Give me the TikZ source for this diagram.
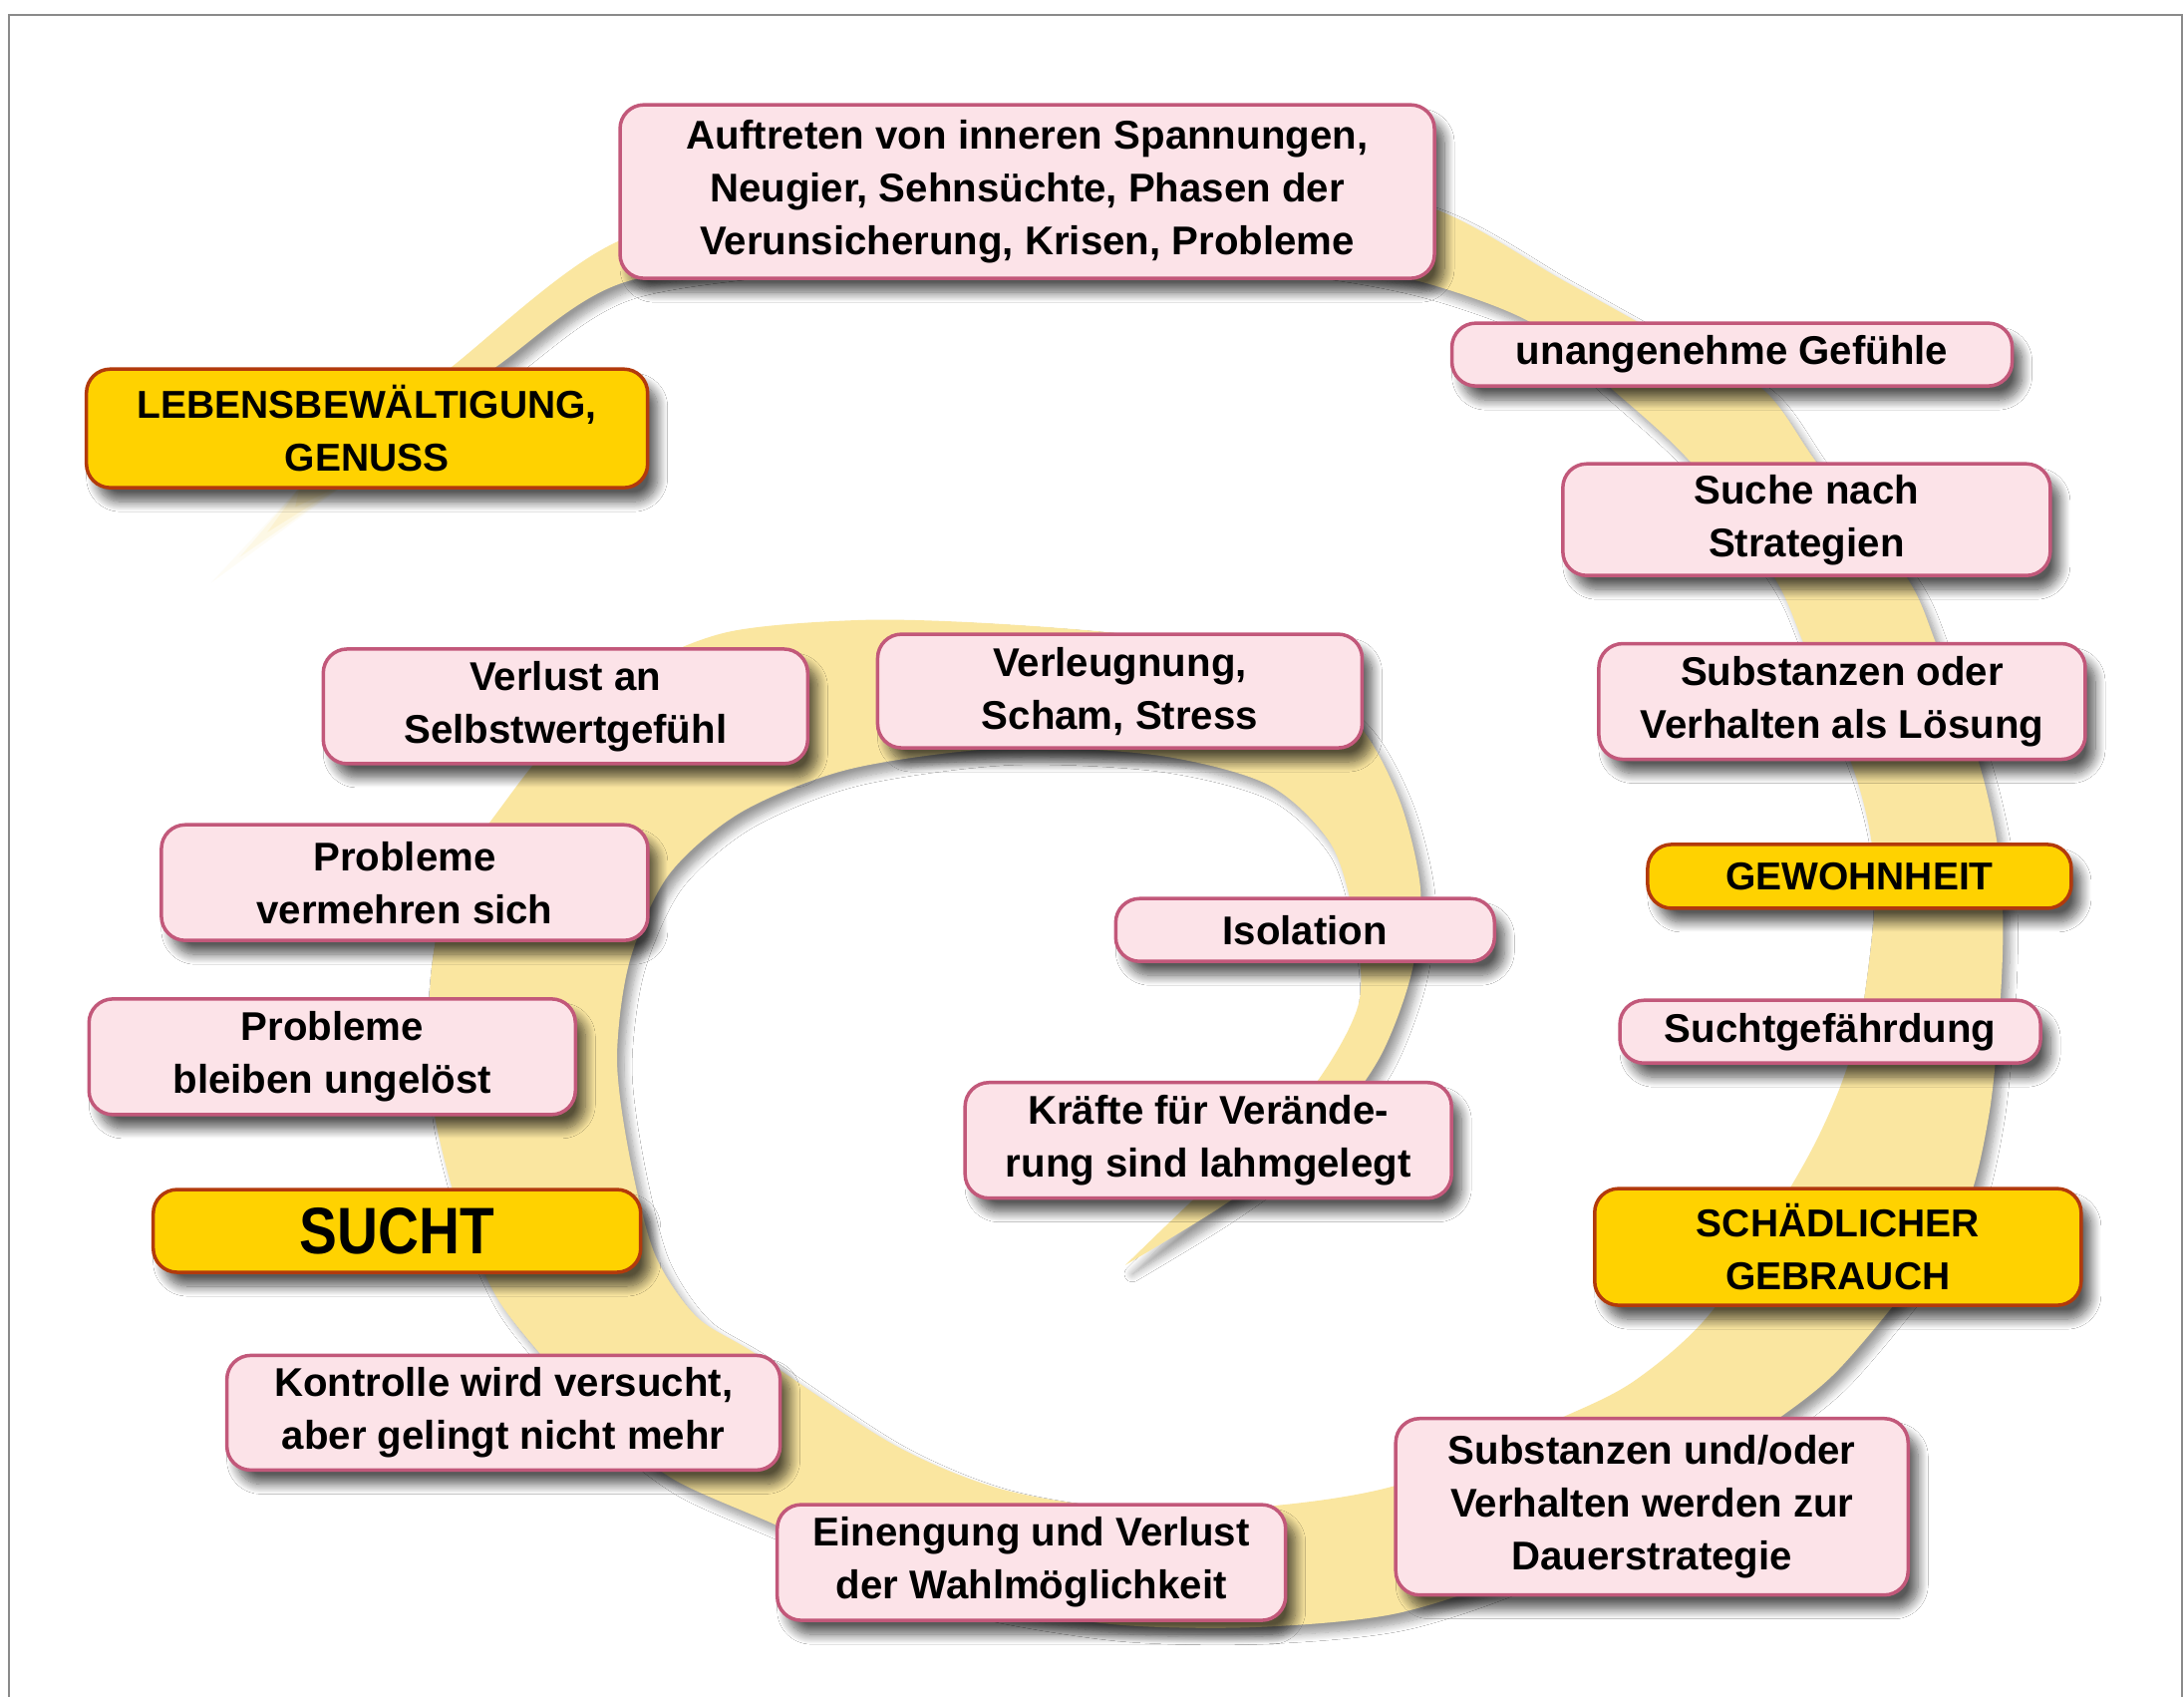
\documentclass[tikz,border=0pt]{standalone}
\usepackage{fontspec}
\setmainfont{Liberation Sans}
\newfontfamily\condfont{Liberation Sans}[FakeStretch=0.86]
\usetikzlibrary{calc,shadows.blur}

\definecolor{pinkfill}{HTML}{FCE3E8}
\definecolor{pinkline}{HTML}{C2587A}
\definecolor{goldfill}{HTML}{FFD200}
\definecolor{goldline}{HTML}{B23A0C}
\definecolor{bandcol}{HTML}{FAE6A0}
\definecolor{framecol}{HTML}{8A8A8A}

\tikzset{
  every node/.style={inner sep=0pt, outer sep=0pt},
  boxshadow/.style={blur shadow={shadow xshift=10pt, shadow yshift=-14pt,
      shadow blur radius=10pt, shadow blur steps=12, shadow opacity=65}},
  pinkbox/.style={draw=pinkline, line width=3.5pt, fill=pinkfill,
      rounded corners=24pt, align=center, text=black,
      font=\bfseries\fontsize{40.2}{53}\selectfont, boxshadow},
  goldbox/.style={draw=goldline, line width=3.5pt, fill=goldfill,
      rounded corners=24pt, align=center, text=black,
      font=\bfseries\fontsize{39}{53}\selectfont, boxshadow},
  sz/.style 2 args={minimum width=#1pt, minimum height=#2pt},
}

\begin{document}
\begin{tikzpicture}[x=1.3973pt, y=-1.3973pt]
\useasboundingbox (0,0) rectangle (1568,1218);
\fill[white] (0,0) rectangle (1568,1218);

% frame
\draw[framecol, line width=2pt] (6.5,1220) -- (6.5,10.4) -- (1566.5,10.4) -- (1566.5,1220);

% faint outer tail of the spiral below the first stage
\foreach \op/\s in {0.10/0.0, 0.18/0.25, 0.28/0.5, 0.38/0.75}{
  \fill[bandcol, opacity=\op]
    ($(152,418)!\s!(232,346)$) -- (215,350) -- (250,346) -- cycle;
}

% the spiral band: outer edge from the tail to the centre, inner edge back
\fill[bandcol, blur shadow={shadow xshift=7pt, shadow yshift=-9pt,
      shadow blur radius=8pt, shadow blur steps=10, shadow opacity=40}]
  plot[smooth, tension=0.5] coordinates {
    (245,330) (326,262) (438,176) (590,128) (740,112) (900,118)
    (1030,150) (1120,200) (1192,240) (1265,279) (1305,333) (1368,413)
    (1390,462) (1420,545) (1434,606) (1438,660) (1436,720) (1428,800)
    (1410,870) (1365,930) (1318,985) (1277,1018) (1200,1070) (1100,1125)
    (1003,1158) (900,1168) (800,1166) (700,1150) (620,1125) (558,1095)
    (484,1062) (430,1020) (388,972) (356,930) (330,870) (312,800)
    (308,730) (312,679) (325,630) (360,579) (395,535) (450,485) (521,454)
    (620,445) (720,448) (830,458) (920,480) (975,520) (1005,575)
    (1020,640) (1013,700) (990,760) (950,812) (880,864) (808,908)}
  -- plot[smooth, tension=0.5] coordinates {
    (808,908) (860,858) (935,790) (975,722) (972,660) (955,605) (910,563)
    (830,542) (720,537) (610,552) (532,583) (480,628) (452,690) (443,760)
    (452,830) (470,900) (500,945) (543,972) (640,1036) (716,1068)
    (800,1082) (900,1082) (1003,1066) (1120,1018) (1175,990) (1230,940)
    (1292,841) (1318,788) (1334,740) (1342,690) (1346,645) (1343,600)
    (1330,550) (1295,462) (1273,413) (1215,333) (1157,279) (1100,232)
    (1030,205) (960,190) (850,178) (740,175) (600,182) (447,203)
    (358,262) (270,330)}
  -- cycle;

% stages of the cycle
\node[pinkbox, sz={817}{174}] (auf) at (737.5,137.5)
  {Auftreten von inneren Spannungen,\\Neugier, Sehnsüchte, Phasen der\\Verunsicherung, Krisen, Probleme};
\node[pinkbox, sz={562}{63}] (unang) at (1243.5,254.5) {unangenehme Gefühle};
\node[goldbox, sz={563}{119}] (leben) at (263.5,307.5) {LEBENSBEWÄLTIGUNG,\\GENUSS};
\node[pinkbox, sz={489}{112}] (suche) at (1297,373) {Suche nach\\Strategien};
\node[pinkbox, sz={486}{115}] (verlust) at (406,507) {Verlust an\\Selbstwertgefühl};
\node[pinkbox, sz={486}{114}] (verleug) at (804,496) {Verleugnung,\\Scham, Stress};
\node[pinkbox, sz={488}{116}] (loesung) at (1322.5,503.5) {Substanzen oder\\Verhalten als Lösung};
\node[pinkbox, sz={488}{116}] (vermehr) at (290.5,633.5) {Probleme\\vermehren sich};
\node[goldbox, sz={425}{64}] (gewohn) at (1335,629) {GEWOHNHEIT};
\node[pinkbox, sz={380}{63}] (isol) at (937,667.5) {Isolation};
\node[pinkbox, sz={488}{116}] (ungeloest) at (238.5,758.5) {Probleme\\bleiben ungelöst};
\node[pinkbox, sz={422}{63}] (gefaehr) at (1314,740.5) {Suchtgefährdung};
\node[pinkbox, sz={488}{116}] (kraefte) at (867.5,818.5) {Kräfte für Verände-\\rung sind lahmgelegt};
\node[goldbox, sz={489}{83}, font=\condfont\bfseries\fontsize{66}{70}\selectfont] (sucht) at (285,883.5) {SUCHT};
\node[goldbox, sz={488}{117}] (schaed) at (1319.5,895) {SCHÄDLICHER\\GEBRAUCH};
\node[pinkbox, sz={555}{115}] (kontrolle) at (361.5,1014) {Kontrolle wird versucht,\\aber gelingt nicht mehr};
\node[pinkbox, sz={514}{177}] (dauer) at (1186,1081.5) {Substanzen und/oder\\Verhalten werden zur\\Dauerstrategie};
\node[pinkbox, sz={510}{116}] (einengung) at (740.5,1121.5) {Einengung und Verlust\\der Wahlmöglichkeit};
\end{tikzpicture}
\end{document}
